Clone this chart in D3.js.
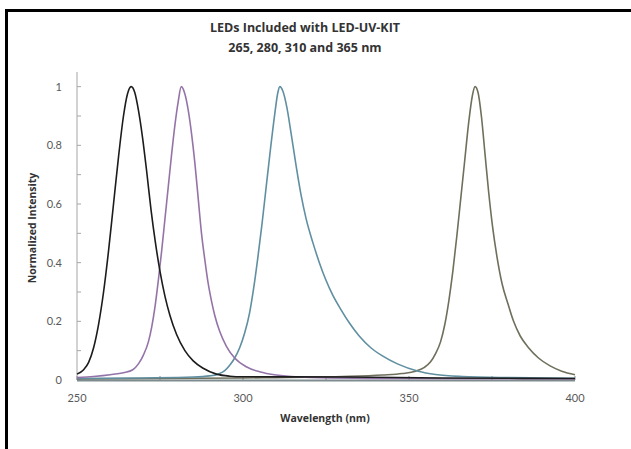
<!DOCTYPE html>
<html>
<head>
<meta charset="utf-8">
<script src="https://cdn.jsdelivr.net/npm/d3@7"></script>
<style>
  body { margin: 0; background: #fff; }
  svg { display: block; }
  text { font-family: Lato, "Open Sans", sans-serif; }
  .bold { font-family: "Open Sans", Lato, sans-serif; font-weight: bold; }
</style>
</head>
<body>
<div id="chart"></div>
<script>
// wavelength (nm) / normalized intensity
const led265 = [
  [250, 0.02], [252, 0.035], [253.5, 0.06], [255, 0.11], [256.5, 0.19], [258, 0.3],
  [259.5, 0.44], [261, 0.6], [262.5, 0.76], [264, 0.9], [265.2, 0.975], [266.3, 1.0],
  [267.4, 0.98], [268.5, 0.92], [269.7, 0.83], [271, 0.71], [272.3, 0.58], [273.6, 0.47],
  [275, 0.37], [276.5, 0.285], [278, 0.22], [280, 0.155], [282.5, 0.1], [285, 0.065],
  [288, 0.04], [292, 0.02], [296, 0.013], [300, 0.011], [330, 0.01], [360, 0.007], [400, 0.005]
]
const led280 = [
  [250, 0.008], [255, 0.012], [260, 0.018], [264, 0.025], [266.8, 0.035], [268.5, 0.055],
  [270, 0.085], [271.5, 0.13], [272.5, 0.18], [273.5, 0.25], [274.5, 0.34], [275.5, 0.44],
  [276.5, 0.55], [277.5, 0.66], [278.5, 0.77], [279.5, 0.87], [280.5, 0.95], [281.4, 1.0],
  [282.5, 0.975], [283.5, 0.92], [284.5, 0.84], [285.5, 0.74], [286.5, 0.62], [287.5, 0.5],
  [288.5, 0.41], [289.5, 0.33], [290.5, 0.27], [291.5, 0.22], [293, 0.165], [295, 0.115],
  [297.5, 0.075], [301, 0.045], [305, 0.028], [310, 0.017], [320, 0.009], [350, 0.005],
  [400, 0.004]
]
const led310 = [
  [250, 0.005], [270, 0.007], [285, 0.01], [290, 0.014], [292.5, 0.02], [294.5, 0.032],
  [296, 0.05], [297.5, 0.075], [299, 0.11], [300.5, 0.16], [302, 0.23], [303.3, 0.32],
  [304.5, 0.42], [305.7, 0.53], [307, 0.66], [308.3, 0.79], [309.6, 0.91], [310.5, 0.98],
  [311.1, 1.0], [312, 0.985], [313.2, 0.93], [314.5, 0.84], [316, 0.73], [317.5, 0.63],
  [319, 0.55], [321, 0.47], [323, 0.4], [325, 0.34], [327, 0.29], [329.5, 0.24],
  [332, 0.195], [335, 0.15], [338.5, 0.11], [342, 0.082], [346.5, 0.055], [352.8, 0.03],
  [358, 0.019], [366, 0.012], [380, 0.008], [400, 0.006]
]
const led365 = [
  [250, 0.004], [300, 0.007], [330, 0.012], [342, 0.017], [348, 0.022], [352, 0.03],
  [354.5, 0.042], [356.5, 0.062], [358, 0.09], [359.5, 0.13], [360.8, 0.19], [362, 0.27],
  [363.2, 0.37], [364.4, 0.49], [365.6, 0.62], [366.8, 0.75], [368, 0.88], [369.1, 0.97],
  [369.9, 1.0], [370.8, 0.98], [371.8, 0.9], [372.9, 0.77], [374, 0.64], [375.2, 0.52],
  [376.5, 0.42], [378, 0.33], [379.8, 0.26], [381.5, 0.2], [383.5, 0.15], [386, 0.11],
  [389, 0.075], [392.5, 0.048], [396, 0.03], [400, 0.018]
]

const seriesList = [led365, led310, led280, led265]
const seriesColors = ['#6f6f5c', '#5f8fa1', '#9474a8', '#1c1c1c']

const xTicks = [250, 275, 300, 325, 350, 375, 400]
const xLabels = [250, 300, 350, 400]
const yTicks = [0, 0.1, 0.2, 0.3, 0.4, 0.5, 0.6, 0.7, 0.8, 0.9, 1]
const yLabels = [0, 0.2, 0.4, 0.6, 0.8, 1]

const titleLines = ['LEDs Included with LED-UV-KIT', '265, 280, 310 and 365 nm']

const W = 631, H = 449

const svg = d3.select('#chart').append('svg')
  .attr('width', W)
  .attr('height', H)

let x = d3.scaleLinear().domain([250, 400]).range([77, 575])
let y = d3.scaleLinear().domain([0, 1.05]).range([380, 72])

// frame (left + top)
svg.append('path')
  .attr('d', `M6.5,${H} V10.5 H${W}`)
  .attr('fill', 'none')
  .attr('stroke', '#000')
  .attr('stroke-width', 3)

// title
svg.selectAll('.title')
  .data(titleLines)
  .enter().append('text')
  .attr('class', 'title bold')
  .attr('x', 305)
  .attr('y', (d, i) => 32 + i * 20)
  .attr('text-anchor', 'middle')
  .attr('font-size', 12.5)
  .attr('fill', '#333')
  .text(d => d)

// y axis
svg.append('line')
  .attr('x1', x(250)).attr('x2', x(250))
  .attr('y1', y(1.05)).attr('y2', y(0))
  .attr('stroke', '#a6a6a6')
  .attr('stroke-width', 1)

svg.selectAll('.ytick')
  .data(yTicks)
  .enter().append('line')
  .attr('x1', x(250)).attr('x2', x(250) + 4)
  .attr('y1', d => y(d)).attr('y2', d => y(d))
  .attr('stroke', '#a6a6a6')

svg.selectAll('.ylab')
  .data(yLabels)
  .enter().append('text')
  .attr('x', 62)
  .attr('y', d => y(d) + 4)
  .attr('text-anchor', 'end')
  .attr('font-size', 11)
  .attr('fill', '#595959')
  .text(d => d)

// x axis
svg.selectAll('.xtick')
  .data(xTicks)
  .enter().append('line')
  .attr('x1', d => x(d)).attr('x2', d => x(d))
  .attr('y1', y(0)).attr('y2', y(0) - 4)
  .attr('stroke', '#8c8c8c')

svg.selectAll('.xlab')
  .data(xLabels)
  .enter().append('text')
  .attr('x', d => x(d))
  .attr('y', 402)
  .attr('text-anchor', 'middle')
  .attr('font-size', 11)
  .attr('fill', '#595959')
  .text(d => d)

svg.append('text')
  .attr('class', 'bold')
  .attr('x', 325)
  .attr('y', 422)
  .attr('text-anchor', 'middle')
  .attr('font-size', 10.5)
  .attr('fill', '#333')
  .text('Wavelength (nm)')

svg.append('text')
  .attr('class', 'bold')
  .attr('transform', 'translate(36,228) rotate(-90)')
  .attr('text-anchor', 'middle')
  .attr('font-size', 10.5)
  .attr('fill', '#333')
  .text('Normalized Intensity')

const line = d3.line()
  .curve(d3.curveMonotoneX)
  .x(d => x(d[0]))
  .y(d => y(d[1]))

svg.append('line')
  .attr('x1', x(250)).attr('x2', x(400))
  .attr('y1', y(0) + 0.5).attr('y2', y(0) + 0.5)
  .attr('stroke', '#7f8c8f')
  .attr('stroke-width', 2)

seriesList.forEach((s, i) => {
  svg.append('path')
    .datum(s)
    .attr('fill', 'none')
    .attr('stroke', seriesColors[i])
    .attr('stroke-width', 1.6)
    .attr('d', line)
})
</script>
</body>
</html>
